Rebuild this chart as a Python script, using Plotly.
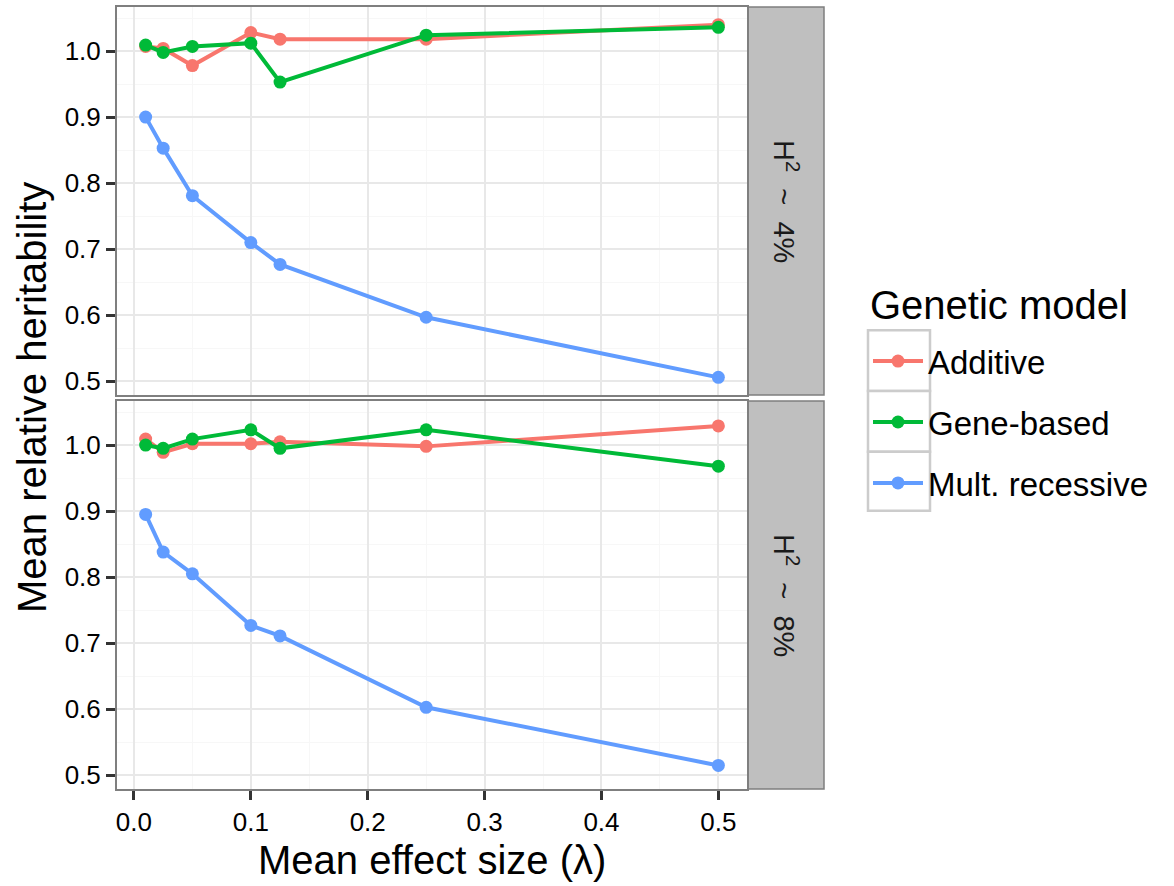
import plotly.graph_objects as go

# ---- data ----
effect_size = [0.01, 0.025, 0.05, 0.1, 0.125, 0.25, 0.5]
models = ["Additive", "Gene-based", "Mult. recessive"]
colors = ["#F8766D", "#00BA38", "#619CFF"]

h4_additive = [1.007, 1.004, 0.978, 1.028, 1.018, 1.018, 1.040]
h4_gene = [1.009, 0.998, 1.007, 1.012, 0.953, 1.024, 1.036]
h4_mult = [0.900, 0.853, 0.781, 0.710, 0.677, 0.597, 0.506]

h8_additive = [1.009, 0.989, 1.002, 1.002, 1.005, 0.998, 1.029]
h8_gene = [1.000, 0.995, 1.009, 1.023, 0.995, 1.023, 0.968]
h8_mult = [0.895, 0.838, 0.805, 0.727, 0.711, 0.603, 0.515]

panels = ["H<sup>2</sup>  ~  4%", "H<sup>2</sup>  ~  8%"]
panel_series = [[h4_additive, h4_gene, h4_mult], [h8_additive, h8_gene, h8_mult]]

x_ticks = [0.0, 0.1, 0.2, 0.3, 0.4, 0.5]
y_ticks = [0.5, 0.6, 0.7, 0.8, 0.9, 1.0]

# ---- layout geometry (pixels) ----
W, H = 1174, 886
ml, mr, mt, mb = 117, 350, 5, 97
pw = W - ml - mr
ph = H - mt - mb
panel_right = (747 - ml) / pw
gap = 6 / ph
half = (ph - 6) / 2 / ph

FONT = "Liberation Sans, Arial, Helvetica, sans-serif"

allx = effect_size
ally = [v for s in panel_series for ser in s for v in ser]
xpad = 0.05 * (max(allx) - min(allx))
ypad = 0.05 * (max(ally) - min(ally))
xr = [min(allx) - xpad, max(allx) + xpad]
yr = [min(ally) - ypad, max(ally) + ypad]

fig = go.Figure()
axes = [("x", "y"), ("x2", "y2")]
for p, (xa, ya) in enumerate(axes):
    for i, m in enumerate(models):
        fig.add_trace(go.Scatter(
            x=effect_size, y=panel_series[p][i], mode="lines+markers",
            name=m, legendgroup=m, showlegend=(p == 0),
            line=dict(color=colors[i], width=4),
            marker=dict(color=colors[i], size=13),
            xaxis=xa, yaxis=ya))

common_axis = dict(
    showline=True, mirror=True, linecolor="#7F7F7F", linewidth=2,
    gridcolor="#E8E8E8", gridwidth=1.5, zeroline=False,
    tickfont=dict(family=FONT, size=26, color="#000000"),
)
minor_grid = dict(dtick=0.05, tick0=0, showgrid=True, gridcolor="#F7F7F7", gridwidth=1)
fig.update_layout(
    width=W, height=H,
    margin=dict(l=ml, r=mr, t=mt, b=mb),
    paper_bgcolor="white", plot_bgcolor="white",
    font=dict(family=FONT, color="#000000"),
    xaxis=dict(domain=[0, panel_right], range=xr, anchor="y", matches="x2",
               tickvals=x_ticks, showticklabels=False, ticks="",
               minor=minor_grid, **common_axis),
    yaxis=dict(domain=[half + gap, 1], range=yr, anchor="x",
               tickvals=y_ticks, tickformat=".1f", ticks="outside", ticklen=9, tickwidth=3,
               tickcolor="#333333", minor=minor_grid, **common_axis),
    xaxis2=dict(domain=[0, panel_right], range=xr, anchor="y2",
                tickvals=x_ticks, tickformat=".1f", ticks="outside", ticklen=9, tickwidth=3,
                tickcolor="#333333", minor=minor_grid, **common_axis),
    yaxis2=dict(domain=[0, half], range=yr, anchor="x2",
                tickvals=y_ticks, tickformat=".1f", ticks="outside", ticklen=9, tickwidth=3,
                tickcolor="#333333", minor=minor_grid, **common_axis),
    legend=dict(
        font=dict(family=FONT, size=33, color="#000000"),
        x=(868 - ml) / pw, xanchor="left",
        y=(H - mb - 332) / ph, yanchor="top",
        bgcolor="rgba(0,0,0,0)", borderwidth=0,
        tracegroupgap=15, itemwidth=50,
    ),
)

# legend title
fig.add_annotation(xref="paper", yref="paper", x=(868 - ml) / pw, y=(H - mb - 304) / ph,
                   text="Genetic model", showarrow=False, xanchor="left", yanchor="middle",
                   font=dict(family=FONT, size=40, color="#000000"))

# strips
strip_x0 = (748 - ml) / pw
for dom, label in [([half + gap, 1], panels[0]), ([0, half], panels[1])]:
    fig.add_shape(type="rect", xref="paper", yref="paper",
                  x0=strip_x0, x1=1, y0=dom[0], y1=dom[1],
                  fillcolor="#BFBFBF", line=dict(color="#7F7F7F", width=1.5), layer="below")
    fig.add_annotation(xref="paper", yref="paper", x=(strip_x0 + 1) / 2, y=(dom[0] + dom[1]) / 2,
                       text=label, textangle=90, showarrow=False,
                       xanchor="center", yanchor="middle",
                       font=dict(family=FONT, size=29, color="#1A1A1A"))

# legend key boxes
box_rows = [329, 390, 451, 510]
for k in range(3):
    fig.add_shape(type="rect", xref="paper", yref="paper",
                  x0=(868 - ml) / pw, x1=(930 - ml) / pw,
                  y0=(H - mb - box_rows[k + 1]) / ph, y1=(H - mb - box_rows[k]) / ph,
                  fillcolor="white", line=dict(color="#CCCCCC", width=2.5), layer="below")

# axis titles
fig.add_annotation(xref="paper", yref="paper", x=panel_right / 2, y=(H - mb - 860) / ph,
                   text="Mean effect size (λ)", showarrow=False,
                   xanchor="center", yanchor="middle",
                   font=dict(family=FONT, size=40, color="#000000"))
fig.add_annotation(xref="paper", yref="paper", x=(32 - ml) / pw, y=0.5,
                   text="Mean relative heritability", showarrow=False, textangle=-90,
                   xanchor="center", yanchor="middle",
                   font=dict(family=FONT, size=40, color="#000000"))

fig.write_html("out.html")
